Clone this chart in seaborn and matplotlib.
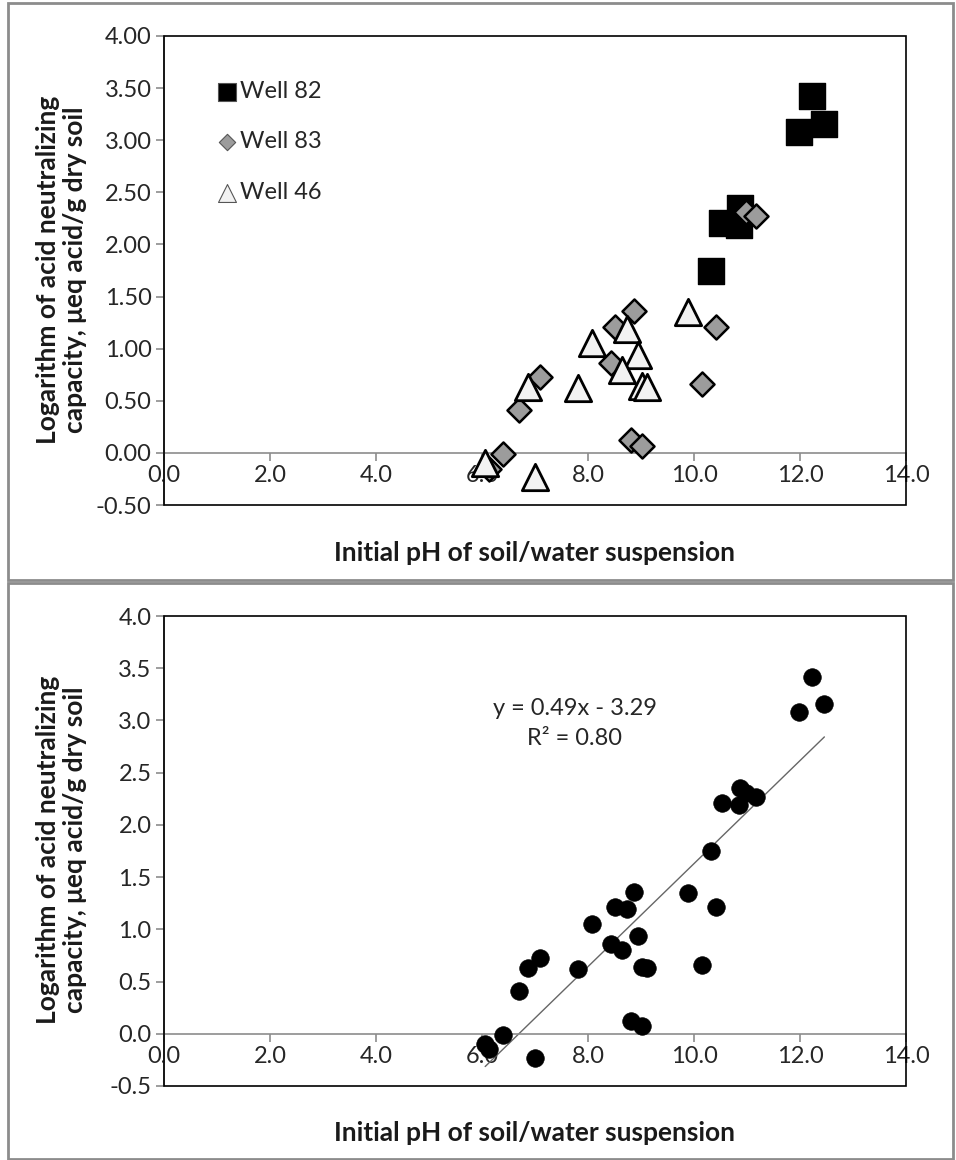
import numpy as np
import pandas as pd
import matplotlib
matplotlib.use("Agg")
import matplotlib.pyplot as plt
from matplotlib.patches import Rectangle
from matplotlib.ticker import FormatStrFormatter, MultipleLocator
import seaborn as sns

sns.set_theme(style="white")
plt.rcParams['font.family'] = ['Lato', 'DejaVu Sans']

# ---- data ----
well82_ph = [12.22, 12.46, 11.98, 10.87, 10.52, 10.84, 10.33]
well82_anc = [3.42, 3.16, 3.08, 2.35, 2.21, 2.19, 1.75]

well83_ph = [10.98, 11.17, 8.87, 8.51, 10.42, 8.43, 7.09, 10.15, 6.70, 8.82, 9.01, 6.39, 6.13]
well83_anc = [2.31, 2.27, 1.36, 1.21, 1.21, 0.86, 0.73, 0.66, 0.41, 0.12, 0.07, -0.01, -0.15]

well46_ph = [9.89, 8.73, 8.08, 8.95, 8.65, 6.87, 7.81, 9.01, 9.12, 6.06, 7.00]
well46_anc = [1.35, 1.19, 1.05, 0.94, 0.80, 0.63, 0.62, 0.64, 0.63, -0.10, -0.23]

series_names = ["Well 82", "Well 83", "Well 46"]
x_ticks = [0, 2, 4, 6, 8, 10, 12, 14]
xlabel = "Initial pH of soil/water suspension"
ylabel = "Logarithm of acid neutralizing\ncapacity, \u03bceq acid/g dry soil"
eq_text = "y = 0.49x - 3.29\nR\u00b2 = 0.80"

W, H = 956, 1160
fig = plt.figure(figsize=(W / 100, H / 100), dpi=100)

# panel frames
for (y0, y1) in [(3, 580), (583, 1159)]:
    fig.add_artist(Rectangle((8 / W, 1 - y1 / H), (953 - 8) / W, (y1 - y0) / H,
                             transform=fig.transFigure, fill=False,
                             ec="#8c8c8c", lw=2))

TICK_FS = 17

def style_axes(ax, yfmt):
    ax.set_xlim(0, 14)
    ax.set_ylim(-0.5, 4.0)
    ax.set_xticks(x_ticks)
    ax.yaxis.set_major_locator(MultipleLocator(0.5))
    ax.xaxis.set_major_formatter(FormatStrFormatter("%.1f"))
    ax.yaxis.set_major_formatter(FormatStrFormatter(yfmt))
    for s in ["top", "right"]:
        ax.spines[s].set_visible(False)
    ax.spines["bottom"].set_position(("data", 0))
    ax.spines["bottom"].set_color("#8c8c8c")
    ax.spines["left"].set_color("#8c8c8c")
    ax.spines["bottom"].set_linewidth(1.2)
    ax.spines["left"].set_linewidth(1.2)
    ax.add_patch(Rectangle((0, 0), 1, 1, transform=ax.transAxes, fill=False,
                           ec="black", lw=1.2, clip_on=False, zorder=5))
    ax.tick_params(axis="both", which="major", direction="out", length=6,
                   width=1.2, color="#8c8c8c", labelsize=TICK_FS, labelcolor="#262626",
                   bottom=True, left=True, pad=3)
    ax.set_xlabel("")
    ax.set_ylabel("")

lab_kw = dict(fontsize=19, fontweight="bold", color="#1a1a1a")

# ---- top chart ----
ax1 = fig.add_axes([164 / W, 1 - 505 / H, 742 / W, 469 / H])
sns.scatterplot(x=well82_ph, y=well82_anc, ax=ax1, marker="s", s=330,
                color="black", edgecolor="black", linewidth=1, label=series_names[0], zorder=3)
sns.scatterplot(x=well83_ph, y=well83_anc, ax=ax1, marker="D", s=150,
                color="#9c9c9c", edgecolor="black", linewidth=1.8, label=series_names[1], zorder=4)
sns.scatterplot(x=well46_ph, y=well46_anc, ax=ax1, marker="^", s=360,
                color="#f2f2f2", edgecolor="black", linewidth=2, label=series_names[2], zorder=5)
style_axes(ax1, "%.2f")
leg = ax1.legend(loc="upper left", bbox_to_anchor=(0.04, 0.95), frameon=False,
                 fontsize=TICK_FS, markerscale=0.68, handletextpad=0.05,
                 labelspacing=1.25, handlelength=1.0)
for h in leg.legend_handles:
    h.set_linewidth(0.8)
    h.set_edgecolor("#555555")
fig.text(535 / W, 1 - 553 / H, xlabel, ha="center", va="center", **lab_kw)
fig.text(62 / W, 1 - 270 / H, ylabel, ha="center", va="center", rotation=90,
         linespacing=1.15, **lab_kw)

# ---- bottom chart ----
all_ph = np.array(well82_ph + well83_ph + well46_ph)
all_anc = np.array(well82_anc + well83_anc + well46_anc)
ax2 = fig.add_axes([164 / W, 1 - 1086 / H, 742 / W, 470 / H])
sns.scatterplot(x=all_ph, y=all_anc, ax=ax2, marker="o", s=160, color="black",
                edgecolor="black", linewidth=0.5, zorder=3)
slope, icpt = np.polyfit(all_ph, all_anc, 1)
xs = np.array([all_ph.min(), all_ph.max()])
ax2.plot(xs, slope * xs + icpt, color="#666666", lw=1, zorder=2)
style_axes(ax2, "%.1f")
ax2.text(7.75, 2.97, eq_text, ha="center", va="center", fontsize=TICK_FS,
         color="#262626", linespacing=1.55)
fig.text(535 / W, 1 - 1133 / H, xlabel, ha="center", va="center", **lab_kw)
fig.text(62 / W, 1 - 850 / H, ylabel, ha="center", va="center", rotation=90,
         linespacing=1.15, **lab_kw)

fig.savefig("out.png", dpi=100)
